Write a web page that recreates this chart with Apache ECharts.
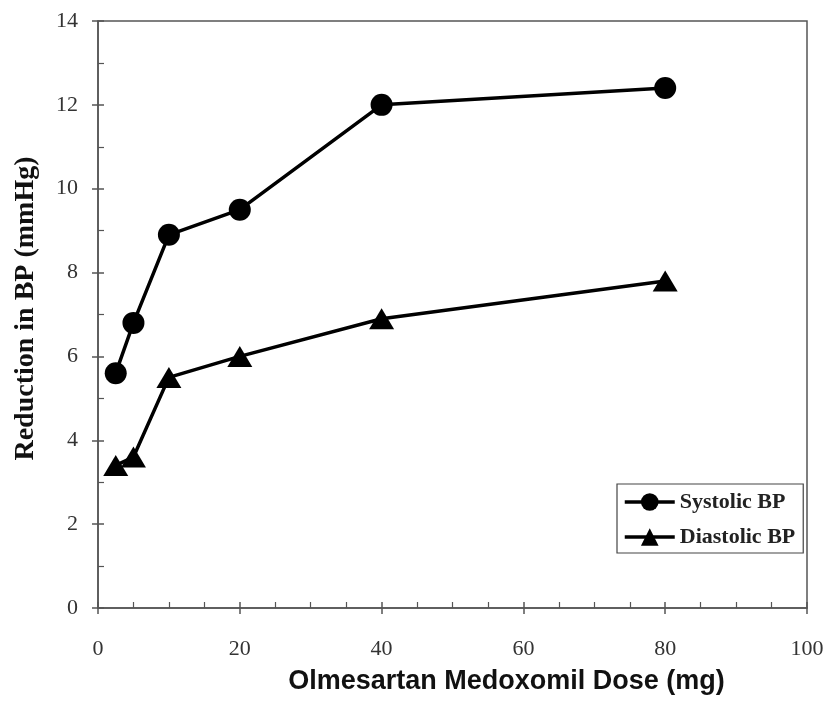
<!DOCTYPE html>
<html>
<head>
<meta charset="utf-8">
<script src="https://cdn.jsdelivr.net/npm/echarts@6/dist/echarts.min.js"></script>
<style>html,body{margin:0;padding:0;background:#fff}#c{width:828px;height:702px}</style>
</head>
<body>
<div id="c"></div>
<script>
const doses = [2.5, 5, 10, 20, 40, 80];
const systolic = [5.6, 6.8, 8.9, 9.5, 12.0, 12.4];
const diastolic = [3.4, 3.6, 5.5, 6.0, 6.9, 7.8];
const seriesNames = ['Systolic BP', 'Diastolic BP'];
const xTitle = 'Olmesartan Medoxomil Dose (mg)';
const yTitle = 'Reduction in BP (mmHg)';

const pairs = (ys) => doses.map((d, i) => [d, ys[i]]);
const axisGray = '#555';
const serif = '"Liberation Serif", "DejaVu Serif", serif';

const chart = echarts.init(document.getElementById('c'));
chart.setOption({
  animation: false,
  backgroundColor: '#fff',
  grid: { left: 98, right: 21, top: 21, bottom: 94, outerBoundsMode: 'none', containLabel: false,
          show: true, borderColor: axisGray, borderWidth: 1.5, backgroundColor: 'transparent' },
  legend: {
    orient: 'vertical', left: 617, top: 484,
    padding: [7, 8, 5, 6], itemGap: 13,
    itemWidth: 50, itemHeight: 22,
    borderColor: '#444', borderWidth: 1.2, backgroundColor: '#fff',
    lineStyle: { color: '#000', width: 3.5 },
    textStyle: { fontFamily: serif, fontWeight: 'bold', fontSize: 22, color: '#222' },
    data: seriesNames
  },
  xAxis: [{
    type: 'value', min: 0, max: 100, interval: 20,
    name: xTitle, nameLocation: 'middle', nameGap: 60,
    nameTextStyle: { fontFamily: '"Liberation Sans", Arial, sans-serif', fontWeight: 'bold', fontSize: 27, color: '#111', padding: [0, 0, 0, 108] },
    axisLine: { lineStyle: { color: axisGray, width: 1.5 } },
    axisTick: { show: true, inside: false, length: 6, lineStyle: { color: axisGray, width: 1.5 } },
    axisLabel: { margin: 30, fontFamily: serif, fontSize: 22, color: '#333' },
    splitLine: { show: false }
  }, {
    type: 'value', min: 0, max: 100, interval: 20, position: 'bottom',
    axisLine: { show: false },
    axisTick: { show: true, inside: true, length: 6, lineStyle: { color: axisGray, width: 1.5 } },
    minorTick: { show: true, splitNumber: 4, length: 6, lineStyle: { color: axisGray, width: 1.2 } },
    axisLabel: { show: false }, splitLine: { show: false }
  }],
  yAxis: [{
    type: 'value', min: 0, max: 14, interval: 2,
    name: yTitle, nameLocation: 'middle', nameGap: 58, nameRotate: 90,
    nameTextStyle: { fontFamily: serif, fontWeight: 'bold', fontSize: 28, color: '#111', padding: [0, 0, 0, 12] },
    axisLine: { show: true, lineStyle: { color: axisGray, width: 1.5 } },
    axisTick: { show: true, inside: false, length: 6, lineStyle: { color: axisGray, width: 1.5 } },
    axisLabel: { margin: 20, fontFamily: serif, fontSize: 22, color: '#333' },
    splitLine: { show: false }
  }, {
    type: 'value', min: 0, max: 14, interval: 2, position: 'left',
    axisLine: { show: false },
    axisTick: { show: true, inside: true, length: 6, lineStyle: { color: axisGray, width: 1.5 } },
    minorTick: { show: true, splitNumber: 2, length: 6, lineStyle: { color: axisGray, width: 1.2 } },
    axisLabel: { show: false }, splitLine: { show: false }
  }],
  series: [{
    name: seriesNames[0], type: 'line', data: pairs(systolic),
    symbol: 'circle', symbolSize: 22,
    lineStyle: { color: '#000', width: 3.5 }, itemStyle: { color: '#000' }
  }, {
    name: seriesNames[1], type: 'line', data: pairs(diastolic),
    symbol: 'triangle', symbolSize: [25, 21],
    lineStyle: { color: '#000', width: 3.5 }, itemStyle: { color: '#000' }
  }]
});
</script>
</body>
</html>
